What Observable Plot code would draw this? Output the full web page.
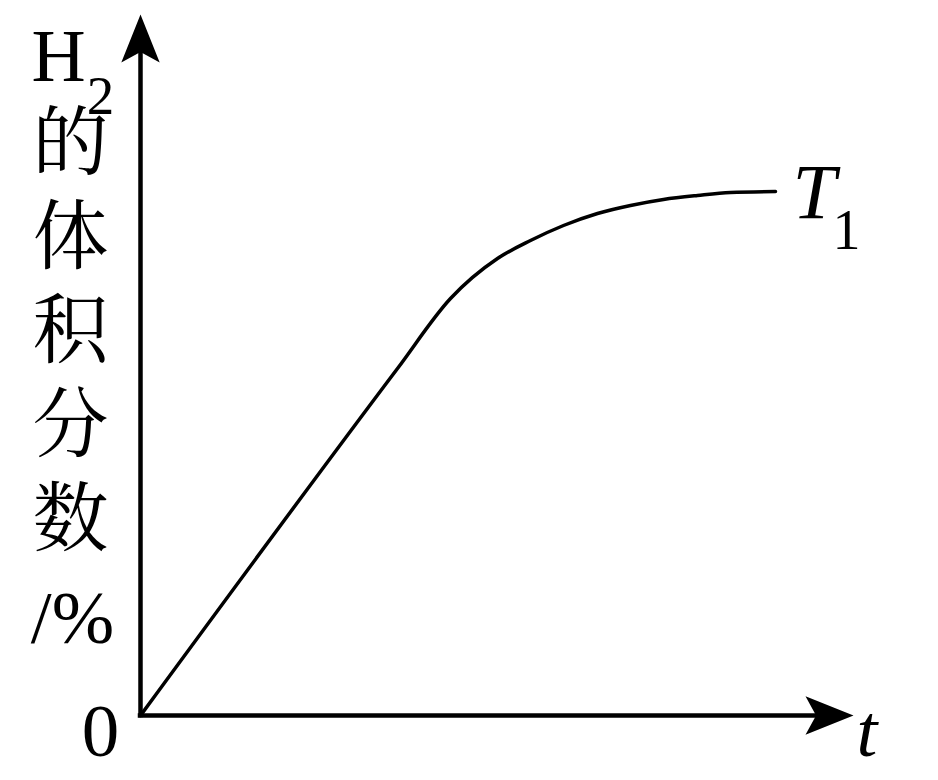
<!DOCTYPE html>
<html>
<head>
<meta charset="utf-8">
<script src="https://cdn.jsdelivr.net/npm/d3@7"></script>
<script src="https://cdn.jsdelivr.net/npm/@observablehq/plot@0.6"></script>
<style>
  html, body { margin: 0; padding: 0; background: #fff; }
  #chart svg { display: block; }
</style>
</head>
<body>
<div id="chart"></div>
<script>
// ---- data (arbitrary units; origin at 0) ----
const tValues  = [0, 257, 310, 357, 390, 423, 457, 490, 523, 557, 590, 635];
const h2Values = [0, 347, 417, 457, 475, 490, 502, 510, 516, 520, 523, 524];
const tMax = 713;   // end of time axis (arrow tip)
const yMax = 701;   // end of y axis (arrow tip)

const yLabelMain = "H";
const yLabelSub = "2";
const yLabelChars = ["的", "体", "积", "分", "数"];
const yLabelUnit = "/%";
const originLabel = "0";
const xLabel = "t";
const seriesLabel = "T";
const seriesSub = "1";

const curve = tValues.map((t, i) => ({t, h: h2Values[i]}));

// filled "stealth" arrow head; tip at the anchor point, pointing up
const stealth = {
  draw(ctx, size) {
    const r = Math.sqrt(size / Math.PI);
    const L = 2 * r, W = 0.8 * r;
    ctx.moveTo(0, 0);
    ctx.lineTo(W, L);
    ctx.lineTo(0, L * 0.78);
    ctx.lineTo(-W, L);
    ctx.closePath();
  }
};

const W = 938, H = 780;
const mL = 140, mR = 85, mT = 14, mB = 65;
// helpers converting pixel offsets of the frame into data units (for label placement)
const sx = d3.scaleLinear().domain([0, tMax]).range([mL, W - mR]);
const sy = d3.scaleLinear().domain([0, yMax]).range([H - mB, mT]);
const px = (p) => sx.invert(p);
const py = (p) => sy.invert(p);

const serif = "Liberation Serif";
const cjk = "Noto Serif CJK SC, Noto Sans CJK SC";

const chart = Plot.plot({
  width: W,
  height: H,
  marginLeft: mL,
  marginRight: mR,
  marginTop: mT,
  marginBottom: mB,
  x: {domain: [0, tMax], axis: null},
  y: {domain: [0, yMax], axis: null},
  style: {background: "#fff"},
  marks: [
    // axes
    Plot.ruleX([0], {y1: 0, y2: yMax - 30, stroke: "#000", strokeWidth: 4.5, strokeLinecap: "square"}),
    Plot.ruleY([0], {x1: 0, x2: tMax - 30, stroke: "#000", strokeWidth: 4.5, strokeLinecap: "square"}),
    Plot.dot([{x: 0, y: yMax}], {x: "x", y: "y", symbol: stealth, r: 24, fill: "#000", stroke: null}),
    Plot.dot([{x: tMax, y: 0}], {x: "x", y: "y", symbol: stealth, r: 24, rotate: 90, fill: "#000", stroke: null}),
    // the curve
    Plot.line(curve, {x: "t", y: "h", curve: "monotone-x", stroke: "#000", strokeWidth: 3.5}),
    // y label
    Plot.text([yLabelMain], {x: px(58), y: py(80), text: d => d, fontFamily: serif, fontSize: 75, lineAnchor: "bottom", textAnchor: "middle", fill: "#000"}),
    Plot.text([yLabelSub], {x: px(100), y: py(113), text: d => d, fontFamily: serif, fontSize: 55, lineAnchor: "bottom", textAnchor: "middle", fill: "#000"}),
    Plot.text([yLabelChars.join("\n")], {x: px(70), y: py(326), text: d => d, fontFamily: cjk, fontSize: 76, lineHeight: 94 / 76, lineAnchor: "middle", textAnchor: "middle", fill: "#000"}),
    Plot.text([yLabelUnit], {x: px(72), y: py(642), text: d => d, fontFamily: serif, fontSize: 75, lineAnchor: "bottom", textAnchor: "middle", fill: "#000"}),
    // origin and x label
    Plot.text([originLabel], {x: px(100), y: py(755), text: d => d, fontFamily: serif, fontSize: 75, lineAnchor: "bottom", textAnchor: "middle", fill: "#000"}),
    Plot.text([xLabel], {x: px(856), y: py(755), text: d => d, fontFamily: serif, fontStyle: "italic", fontSize: 75, lineAnchor: "bottom", textAnchor: "start", fill: "#000"}),
    // series label
    Plot.text([seriesLabel], {x: px(792), y: py(217), text: d => d, fontFamily: serif, fontStyle: "italic", fontSize: 78, lineAnchor: "bottom", textAnchor: "start", fill: "#000"}),
    Plot.text([seriesSub], {x: px(846), y: py(248), text: d => d, fontFamily: serif, fontSize: 56, lineAnchor: "bottom", textAnchor: "middle", fill: "#000"})
  ]
});

document.getElementById("chart").appendChild(chart);
</script>
</body>
</html>
